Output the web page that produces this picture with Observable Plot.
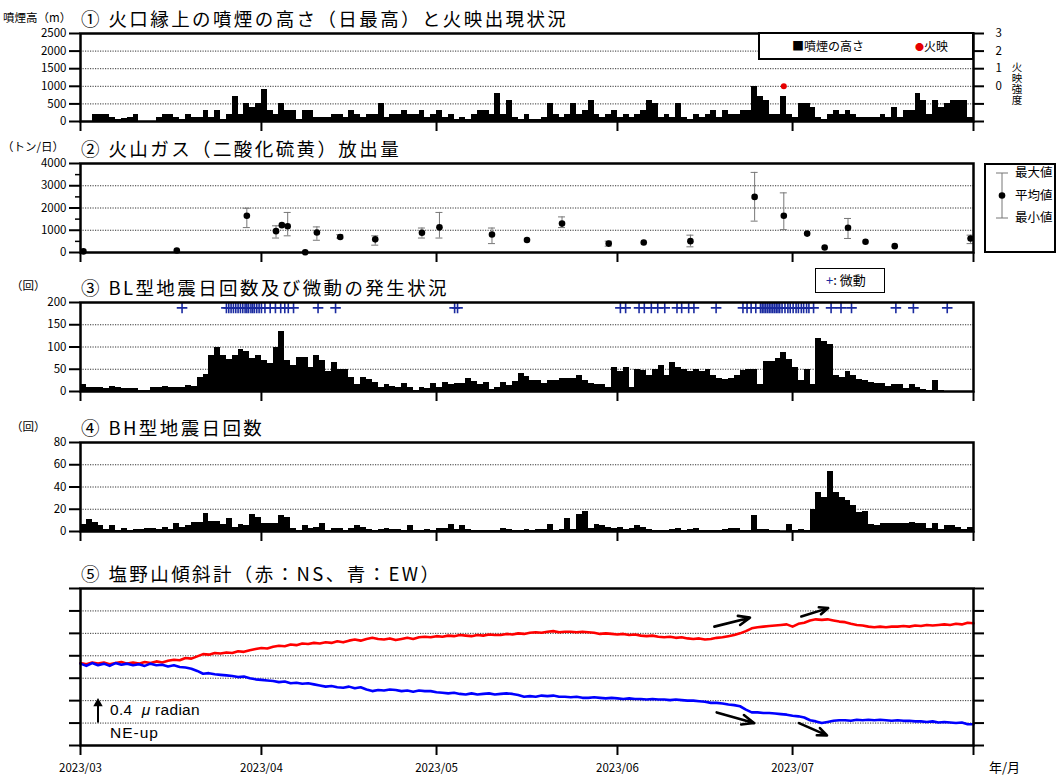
<!DOCTYPE html>
<html><head><meta charset="utf-8">
<script src="https://cdn.jsdelivr.net/npm/d3@7"></script>
<script src="https://cdn.jsdelivr.net/npm/@observablehq/plot@0.6"></script>
<style>
body{margin:0;background:#fff;}
#root{position:relative;width:1057px;height:776px;overflow:hidden;font-family:"Noto Sans CJK JP",sans-serif;color:#000;}
.abs{position:absolute;white-space:nowrap;line-height:1;}
.title{font-size:18.5px;letter-spacing:2.4px;}
.unit{font-size:11.5px;}
</style></head><body><div id="root"></div>
<script>
// ---------------- data ----------------
const titles = ["① 火口縁上の噴煙の高さ（日最高）と火映出現状況","② 火山ガス（二酸化硫黄）放出量","③ BL型地震日回数及び微動の発生状況","④ BH型地震日回数","⑤ 塩野山傾斜計（赤：NS、青：EW）"];
const units = ["噴煙高（m）","（トン/日）","（回）","（回）"];
const monthLabels = ["2023/03","2023/04","2023/05","2023/06","2023/07",""];
const monthStartDay = [0,31,61,92,122,153];

// daily maximum plume height (m), Mar 1 .. Jul 31
const smokeHeight = [
0,0,200,200,200,100,50,75,100,200,
0,0,0,100,200,200,100,50,200,100,
100,300,100,300,50,200,700,200,500,400,
500,900,300,200,500,300,300,50,300,300,
100,100,100,200,200,100,300,200,100,200,
200,500,100,200,200,300,200,200,300,100,
200,300,100,200,50,100,50,200,300,300,
200,800,200,600,100,50,200,50,50,100,
500,200,100,200,500,200,300,600,200,100,
200,300,100,200,100,200,300,600,500,100,
200,100,500,100,50,200,100,200,300,100,
300,200,200,300,300,1000,700,600,200,200,
700,200,100,500,500,400,100,50,200,300,
200,300,200,100,100,100,100,200,100,400,
100,300,300,800,600,200,600,400,500,600,
600,600,100];
const fireDay = [120];
const fireLevel = [0];

// SO2 flux (t/day)
const gasDay  = [0,16,28,33,34,35,38,40,44,50,58,61,70,76,82,90,96,104,115,120,124,127,131,134,139,152];
const gasMean = [50,90,1650,960,1230,1180,10,900,700,590,890,1130,810,560,1300,400,450,510,2500,1650,850,225,1110,480,285,630];
const gasMax  = [null,null,1990,1200,null,1800,null,1150,800,750,1100,1800,1100,null,1600,510,null,780,3600,2680,null,null,1530,null,null,780];
const gasMin  = [null,null,1120,650,null,750,null,550,650,330,650,650,400,null,1120,285,null,255,1410,1030,null,null,630,null,null,400];

// BL-type earthquakes per day
const blCount = [
15,8,8,8,7,12,9,6,6,6,
3,3,10,10,12,9,8,8,13,11,
32,38,80,100,80,72,80,94,90,75,
80,70,62,98,135,70,58,77,77,55,
80,70,45,66,50,50,32,15,32,28,
20,10,15,12,10,18,8,3,10,7,
18,8,20,15,17,17,30,23,15,20,
5,10,20,14,22,40,33,25,25,18,
25,25,30,30,30,35,25,18,15,15,
10,55,45,55,10,50,48,35,50,58,
35,65,55,50,45,50,45,50,35,30,
27,30,35,48,50,50,15,68,68,75,
88,72,55,25,50,15,118,112,105,35,
32,44,35,28,25,20,18,18,12,15,
16,7,15,8,5,3,25,2,1,1,
1,1,1];
// tremor occurrences (day offset from Mar 1)
const tremorDay = [17.4,25,25.4,25.8,26.2,26.6,27,27.4,27.8,28.2,28.5,28.8,29.2,29.5,29.8,30.2,30.6,31,31.6,32.5,33.4,34.3,35,35.6,36.5,40.7,43.7,64.1,64.6,
92.5,93.4,95.7,96.6,97.8,98.9,100.1,102.2,103,104.2,105.1,108.9,113.5,114.2,114.9,115.7,116.5,116.8,117.1,117.4,117.7,118,118.3,118.6,118.9,119.2,119.5,119.8,120.2,120.7,121.2,121.6,122.1,122.6,123,123.5,123.9,124.4,124.8,125.6,128.6,130.3,132.1,139.7,142.7,148.5];

// BH-type earthquakes per day
const bhCount = [
6,11,8,5,2,5,1,3,1,2,
2,3,3,2,4,2,7,4,5,8,
8,16,9,9,6,12,4,6,5,15,
13,7,7,7,14,13,3,1,5,3,
4,7,1,3,3,1,3,5,4,2,
1,2,3,2,2,1,5,1,1,2,
1,3,3,6,2,5,2,1,1,1,
1,1,3,2,1,1,2,1,2,2,
6,1,2,12,2,15,18,3,6,5,
4,3,4,2,3,5,4,2,1,1,
1,2,3,1,2,3,1,1,1,1,
2,3,3,1,1,14,2,2,1,1,
0,6,1,2,1,20,35,31,54,35,
31,28,23,17,18,6,5,7,7,7,
7,7,8,7,7,3,7,2,5,5,
4,2,4];

// tilt (micro-radian, arbitrary offset), daily, Mar 1 .. Aug 1
const nsTilt = [
1.47,1.45,1.48,1.46,1.48,1.45,1.47,1.49,1.46,1.48,
1.46,1.49,1.47,1.50,1.48,1.51,1.53,1.52,1.56,1.55,
1.59,1.63,1.62,1.65,1.64,1.66,1.65,1.68,1.67,1.70,
1.72,1.74,1.73,1.76,1.78,1.77,1.80,1.79,1.82,1.81,
1.83,1.82,1.84,1.83,1.86,1.84,1.87,1.89,1.87,1.90,
1.92,1.90,1.89,1.91,1.88,1.90,1.92,1.90,1.93,1.94,
1.93,1.95,1.94,1.96,1.95,1.97,1.96,1.95,1.97,1.96,
1.98,1.97,1.97,1.99,1.98,2.00,1.99,2.01,2.02,2.01,
2.03,2.04,2.02,2.03,2.03,2.02,2.03,2.02,2.01,1.99,
2.00,1.99,1.98,1.99,1.97,1.98,1.96,1.95,1.96,1.94,
1.93,1.94,1.92,1.93,1.91,1.90,1.91,1.89,1.90,1.92,
1.93,1.95,1.97,2.00,2.04,2.09,2.11,2.12,2.13,2.14,
2.15,2.16,2.12,2.17,2.19,2.23,2.25,2.24,2.25,2.23,
2.21,2.20,2.17,2.15,2.14,2.12,2.11,2.12,2.11,2.12,
2.12,2.13,2.12,2.14,2.13,2.15,2.14,2.15,2.16,2.15,
2.17,2.16,2.19,2.18];
const ewTilt = [
1.46,1.42,1.47,1.43,1.46,1.42,1.47,1.44,1.46,1.43,
1.45,1.42,1.46,1.43,1.44,1.41,1.43,1.40,1.39,1.37,
1.33,1.28,1.29,1.27,1.26,1.25,1.24,1.22,1.23,1.20,
1.18,1.17,1.16,1.15,1.13,1.14,1.11,1.12,1.10,1.11,
1.09,1.07,1.05,1.06,1.04,1.03,1.05,1.02,1.04,1.00,
0.97,0.99,0.98,1.00,0.99,0.97,0.98,0.96,0.98,0.97,
0.97,0.95,0.94,0.93,0.94,0.92,0.91,0.93,0.91,0.92,
0.93,0.91,0.92,0.93,0.92,0.90,0.87,0.88,0.87,0.89,
0.88,0.89,0.87,0.87,0.86,0.87,0.85,0.85,0.86,0.85,
0.84,0.85,0.84,0.83,0.84,0.83,0.83,0.82,0.83,0.82,
0.82,0.81,0.82,0.81,0.80,0.80,0.79,0.78,0.76,0.76,
0.75,0.73,0.72,0.70,0.64,0.59,0.59,0.58,0.58,0.57,
0.56,0.55,0.53,0.52,0.50,0.45,0.43,0.40,0.42,0.44,
0.45,0.45,0.44,0.46,0.45,0.46,0.45,0.46,0.45,0.44,
0.45,0.44,0.44,0.43,0.43,0.42,0.43,0.41,0.42,0.41,
0.40,0.41,0.38,0.38];
// trend arrows in tilt panel
const arrowFromDay = [108.6,123.5,109.0,123.1];
const arrowFromVal = [2.12,2.30,0.59,0.40];
const arrowToDay   = [114.7,128.1,115.4,127.9];
const arrowToVal   = [2.28,2.45,0.40,0.18];
const scaleArrowDay = [3];

// ---------------- helpers ----------------
const root = document.getElementById("root");
const start = new Date(Date.UTC(2023,2,1));
const end = new Date(Date.UTC(2023,7,1));
const day = d => new Date(start.getTime() + d*864e5);
const monthTicks = monthStartDay.map(day);
const FONT = '"Noto Sans CJK JP", sans-serif';

function addDiv(html, left, top, cls, css) {
  const el = document.createElement("div");
  el.className = "abs " + (cls||"");
  el.style.left = left + "px"; el.style.top = top + "px";
  if (css) el.style.cssText += css;
  el.innerHTML = html;
  root.appendChild(el);
  return el;
}
const grid = vals => Plot.ruleY(vals, {stroke:"#333", strokeWidth:1, strokeDasharray:"1.2,1.3"});
const frame = () => Plot.frame({stroke:"#000", strokeWidth:2.5});
const xTicks = (labels) => Plot.axisX({ticks: monthTicks, tickSize: 10, tickPadding: 8, strokeWidth: 2, label: null,
  tickFormat: labels ? (d => { const i = monthTicks.findIndex(t => +t === +d); return i >= 0 ? monthLabels[i] : ""; }) : (() => "")});
const yLeft = (ticks, fmt) => Plot.axisY({ticks, tickSize: 11, tickPadding: 3, strokeWidth: 2, label: null, tickFormat: fmt || (d => String(d))});

function panel(top, h, yDomain, marks, mb = 16, mt = 6) {
  const svg = Plot.plot({
    width: 1057, height: h + mt + mb,
    marginLeft: 80, marginRight: 84, marginTop: mt, marginBottom: mb,
    x: {type: "utc", domain: [start, end]},
    y: {domain: yDomain},
    style: {fontFamily: FONT, fontSize: "11.5px", color: "#000", background: "transparent", overflow: "visible"},
    marks
  });
  Object.assign(svg.style, {position: "absolute", left: "0px", top: (top - mt) + "px"});
  root.appendChild(svg);
}
const bars = vals => Plot.rect(vals, {x1: (d,i) => day(i), x2: (d,i) => day(i+1), y1: 0, y2: d => d, fill: "#000", shapeRendering: "crispEdges"});

// ---------------- panel 1 ----------------
panel(33, 88, [0, 2500], [
  grid([500,1000,1500,2000]),
  bars(smokeHeight),
  Plot.dot(fireDay, {x: d => day(d + 0.5), y: (d,i) => 1000 + 500*fireLevel[i], r: 3, fill: "#e60000"}),
  yLeft([0,500,1000,1500,2000,2500]),
  Plot.axisY({anchor: "right", ticks: [0,500,1000,1500,2000,2500], tickSize: 10, tickPadding: 12, strokeWidth: 2, label: null,
    tickFormat: d => d >= 1000 ? String((d-1000)/500) : ""}),
  xTicks(false),
  frame()
]);
// ---------------- panel 2 ----------------
const gasIdx = gasDay.map((d,i) => i);
const gasBar = gasIdx.filter(i => gasMax[i] != null);
panel(163, 89, [0, 4000], [
  grid([1000,2000,3000]),
  Plot.ruleX(gasBar, {x: i => day(gasDay[i] + 0.5), y1: i => gasMin[i], y2: i => gasMax[i], stroke: "#777", strokeWidth: 1}),
  Plot.ruleY(gasBar, {y: i => gasMax[i], x1: i => day(gasDay[i] - 0.1), x2: i => day(gasDay[i] + 1.1), stroke: "#777", strokeWidth: 1}),
  Plot.ruleY(gasBar, {y: i => gasMin[i], x1: i => day(gasDay[i] - 0.1), x2: i => day(gasDay[i] + 1.1), stroke: "#777", strokeWidth: 1}),
  Plot.dot(gasIdx, {x: i => day(gasDay[i] + 0.5), y: i => gasMean[i], r: 3.3, fill: "#000"}),
  yLeft([0,1000,2000,3000,4000]),
  Plot.axisY({ticks: [500,1500,2500,3500], tickSize: 5, strokeWidth: 1.5, tickFormat: () => "", label: null}),
  xTicks(false),
  frame()
]);
// ---------------- panel 3 ----------------
panel(302, 89, [0, 200], [
  grid([50,100,150]),
  bars(blCount),
  Plot.dot(tremorDay, {x: d => day(d), y: 188, symbol: "plus", r: 3.5, stroke: "#1a2aa0", strokeWidth: 1.6}),
  yLeft([0,50,100,150,200]),
  xTicks(false),
  frame()
]);
// ---------------- panel 4 ----------------
panel(442, 89, [0, 80], [
  grid([20,40,60]),
  bars(bhCount),
  yLeft([0,20,40,60,80]),
  xTicks(false),
  frame()
]);
// ---------------- panel 5 ----------------
const tiltTicks = [0,0.4,0.8,1.2,1.6,2.0,2.4,2.8];
panel(588, 157, [0, 2.8], [
  grid([0.4,0.8,1.2,1.6,2.0,2.4]),
  Plot.line(nsTilt, {x: (d,i) => day(i), y: d => d, stroke: "#ff0000", strokeWidth: 2.6}),
  Plot.line(ewTilt, {x: (d,i) => day(i), y: d => d, stroke: "#0000ff", strokeWidth: 2.6}),
  Plot.arrow(arrowFromDay, {x1: d => day(d), y1: (d,i) => arrowFromVal[i], x2: (d,i) => day(arrowToDay[i]), y2: (d,i) => arrowToVal[i],
    stroke: "#000", strokeWidth: 2.6, headLength: 9, headAngle: 45}),
  Plot.ruleX(scaleArrowDay, {x: d => day(d), y1: 0.4, y2: 0.74, stroke: "#000", strokeWidth: 2}),
  Plot.dot(scaleArrowDay, {x: d => day(d), y: 0.75, symbol: "triangle", r: 3.5, fill: "#000"}),
  Plot.axisY({anchor: "left", ticks: tiltTicks, tickSize: 11, strokeWidth: 2, tickFormat: () => "", label: null}),
  Plot.axisY({anchor: "right", ticks: tiltTicks, tickSize: 10, strokeWidth: 2, tickFormat: () => "", label: null}),
  xTicks(true),
  frame()
], 31);

// ---------------- texts ----------------
const frameTops = [33,163,302,442,588];
titles.forEach((t,i) => addDiv(t, 81, frameTops[i] - 24, "title"));
const unitPos = [[3,12],[2,141],[11,280],[11,421]];
units.forEach((u,i) => addDiv(u, unitPos[i][0], unitPos[i][1], "unit"));
addDiv("火映強度", 1011, 62, "", "font-size:10.5px;writing-mode:vertical-rl;letter-spacing:0.5px;");
addDiv("年/月", 989, 760, "", "font-size:13px;");
addDiv("0.4&nbsp;&nbsp;<i>μ</i>&nbsp;radian", 110, 702, "", "font-family:'Liberation Sans',Arial,sans-serif;font-size:15.5px;letter-spacing:0.3px;");
addDiv("NE-up", 110, 725, "", "font-family:'Liberation Sans',Arial,sans-serif;font-size:15.5px;letter-spacing:1px;");

// legend panel 1
const lg1 = addDiv("", 758, 32, "", "width:212px;height:24px;border:2px solid #000;background:#fff;");
lg1.innerHTML = '<span style="position:absolute;left:32px;top:6px;font-size:12px;">■噴煙の高さ</span>' +
  '<span style="position:absolute;left:155px;top:6px;font-size:12px;"><span style="color:#e60000;font-size:9px;vertical-align:1px;">●</span>火映</span>';
// legend panel 2
const lg2 = addDiv("", 984, 163, "", "width:68px;height:86px;border:2px solid #000;background:#fff;");
lg2.innerHTML = '<svg width="30" height="86" style="position:absolute;left:0;top:0">' +
  '<line x1="16" y1="8" x2="16" y2="53" stroke="#777" stroke-width="1"/>' +
  '<line x1="10" y1="8" x2="22" y2="8" stroke="#777" stroke-width="1"/>' +
  '<line x1="10" y1="53" x2="22" y2="53" stroke="#777" stroke-width="1"/>' +
  '<circle cx="16" cy="30.5" r="3.3" fill="#000"/></svg>' +
  '<span style="position:absolute;left:29px;top:1px;font-size:12.5px;">最大値</span>' +
  '<span style="position:absolute;left:29px;top:24px;font-size:12.5px;">平均値</span>' +
  '<span style="position:absolute;left:29px;top:46px;font-size:12.5px;">最小値</span>';
// legend panel 3
const lg3 = addDiv("", 815, 268, "", "width:68px;height:23px;border:1.5px solid #000;background:#fff;");
lg3.innerHTML = '<span style="position:absolute;left:10px;top:4px;font-size:13px;"><span style="color:#1a2aa0;">+</span>: 微動</span>';
</script></body></html>
